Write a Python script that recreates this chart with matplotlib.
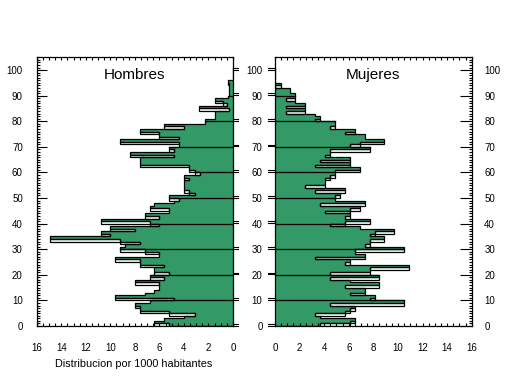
import numpy as np
import matplotlib
matplotlib.use('Agg')
import matplotlib.pyplot as plt
from matplotlib.ticker import MultipleLocator, FixedLocator
from matplotlib.patches import Rectangle
import matplotlib.transforms as mtransforms

plt.rcParams['font.family'] = ['Liberation Sans', 'DejaVu Sans']

ages = np.arange(0, 101)

hombres = [5.2, 6.4, 5.6, 4.0, 3.1, 5.2, 7.6, 7.6, 8.0, 6.8,
           4.8, 9.6, 7.2, 6.4, 6.0, 6.0, 6.0, 8.0, 5.6, 6.8,
           5.2, 6.4, 6.4, 5.6, 7.6, 7.6, 9.6, 6.0, 6.0, 7.2,
           9.2, 8.8, 7.6, 9.2, 14.9, 10.0, 10.8, 8.0, 10.0, 6.0,
           6.8, 10.8, 6.0, 7.2, 5.2, 5.2, 6.8, 6.4, 4.8, 4.4,
           5.2, 3.1, 3.6, 4.0, 4.0, 4.0, 4.0, 3.6, 4.0, 2.7,
           3.1, 3.6, 3.6, 7.6, 7.6, 7.6, 4.8, 8.4, 4.8, 5.2,
           4.4, 4.4, 9.2, 4.4, 6.0, 6.0, 7.6, 4.0, 5.6, 2.3,
           2.3, 1.5, 1.5, 1.5, 0.35, 2.75, 0.5, 0.8, 1.5, 0.4,
           0.35, 0.35, 0.35, 0.35, 0.35, 0.4, 0, 0, 0, 0, 0]

mujeres = [3.7, 6.1, 6.5, 3.7, 3.25, 5.7, 6.1, 6.5, 4.5, 10.5,
           7.7, 8.1, 6.1, 7.3, 7.3, 5.7, 8.5, 6.1, 4.5, 8.5,
           4.5, 7.7, 7.7, 10.9, 5.7, 6.1, 3.25, 7.3, 6.5, 6.5,
           10.5, 7.3, 7.7, 7.7, 8.9, 7.7, 8.1, 9.7, 6.9, 4.5,
           5.7, 7.7, 5.7, 6.1, 4.1, 6.1, 6.9, 3.7, 7.3, 4.9,
           4.9, 5.3, 3.25, 5.7, 2.4, 4.1, 4.1, 4.1, 4.5, 4.9,
           4.9, 6.9, 3.25, 6.1, 3.7, 6.1, 4.1, 4.5, 4.5, 7.7,
           6.1, 6.9, 8.9, 7.3, 7.3, 5.7, 6.5, 4.5, 4.9, 4.9,
           3.25, 3.7, 3.25, 0.9, 2.4, 0.9, 2.4, 1.6, 0.9, 1.6,
           1.6, 1.2, 1.2, 0, 0.5, 0, 0, 0, 0, 0, 0]

x_ticks = [0, 2, 4, 6, 8, 10, 12, 14, 16]
y_ticks = [0, 10, 20, 30, 40, 50, 60, 70, 80, 90, 100]

titles = ['Hombres', 'Mujeres']
xlabel = 'Distribucion por 1000 habitantes'

GREEN = '#339966'
LW = 0.9

fig = plt.figure(figsize=(5.09, 3.76), dpi=100)
axL = fig.add_axes([0.0721, 0.133, 0.3857, 0.716])
axR = fig.add_axes([0.5403, 0.133, 0.3864, 0.716])


def draw(ax, vals):
    vals = np.asarray(vals, float)
    ax.barh(ages, vals, height=1.0, align='edge', color=GREEN, linewidth=0)
    # outline of each bar also encloses the row just below it
    for i in range(1, len(vals)):
        if vals[i] > vals[i - 1] + 0.05:
            ax.add_patch(Rectangle((vals[i - 1], ages[i] - 1),
                                   vals[i] - vals[i - 1], 1.0,
                                   facecolor='white', edgecolor='black',
                                   lw=LW, joinstyle='miter'))
    xs = [0]
    ys = [0]
    for a, v in zip(ages, vals):
        xs += [v, v]
        ys += [a, a + 1]
    xs.append(0)
    ys.append(ages[-1] + 1)
    ax.plot(xs, ys, color='black', lw=LW, solid_joinstyle='miter')
    for d in y_ticks[1:-1]:
        w = max(vals[d - 1], vals[d])
        ax.plot([0, w], [d, d], color='black', lw=LW)


def double_ticks(ax, x0, x1):
    trans = mtransforms.blended_transform_factory(ax.transAxes, ax.transData)
    for d in y_ticks:
        for off in (0.15, 0.85):
            ax.plot([x0, x1], [d + off, d + off], color='black', lw=0.8,
                    transform=trans, clip_on=False)


draw(axL, hombres)
draw(axR, mujeres)

for ax, title in zip((axL, axR), titles):
    ax.set_ylim(0, 105.2)
    ax.xaxis.set_major_locator(FixedLocator(x_ticks))
    ax.xaxis.set_minor_locator(MultipleLocator(0.5))
    ax.yaxis.set_major_locator(FixedLocator(y_ticks))
    ax.yaxis.set_minor_locator(MultipleLocator(1))
    ax.tick_params(axis='x', which='both', direction='in', top=True,
                   bottom=True, length=2.5, width=0.8, labelsize=7, pad=12)
    for s in ax.spines.values():
        s.set_linewidth(0.9)
    ax.text(0.5, 0.932, title, transform=ax.transAxes, ha='center',
            va='center', fontsize=11)

axL.set_xlim(16, 0)
axR.set_xlim(0, 16)

axL.tick_params(axis='y', which='major', direction='in', left=True,
                right=False, length=7, width=0.8, labelsize=7, pad=10)
axL.tick_params(axis='y', which='minor', direction='in', left=True,
                right=False, length=2.4, width=0.8)

axR.tick_params(axis='y', which='major', direction='in', left=True,
                right=True, labelleft=True, labelright=True, length=8.4,
                width=0.8, labelsize=7, pad=9)
axR.tick_params(axis='y', which='minor', direction='in', left=False,
                right=True, length=2.4, width=0.8)
for t in axR.yaxis.get_major_ticks():
    t.tick1line.set_visible(False)

double_ticks(axL, 1.0, 1.0 + 5 / 196.3)
double_ticks(axR, -7 / 196.7, 0.0)

fig.text(134 / 509, 1 - 364 / 376, xlabel, ha='center', va='center',
         fontsize=7.8)

fig.savefig('out.png', dpi=100)
